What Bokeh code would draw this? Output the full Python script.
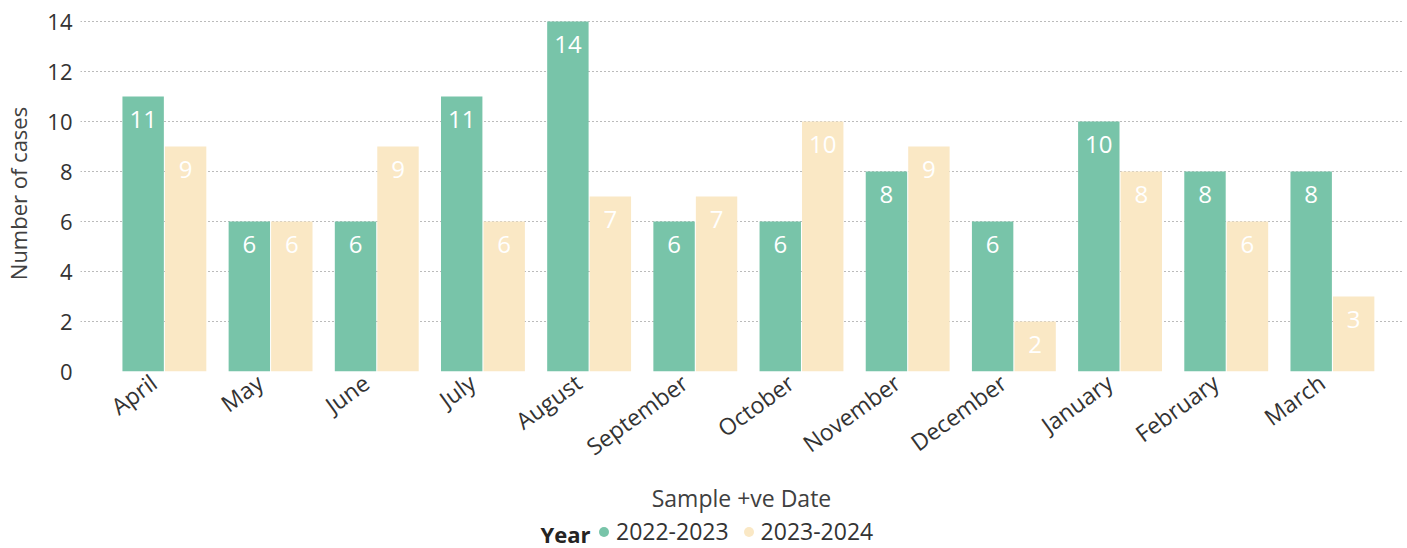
from bokeh.plotting import figure
from bokeh.layouts import column
from bokeh.models import (ColumnDataSource, Range1d, FixedTicker, Legend, LegendItem, Label)
from bokeh.core.properties import value
from bokeh.embed import file_html
from bokeh.resources import INLINE
import math

months = ["April", "May", "June", "July", "August", "September", "October",
          "November", "December", "January", "February", "March"]
series_names = ["2022-2023", "2023-2024"]
cases_2022_2023 = [11, 6, 6, 11, 14, 6, 6, 8, 6, 10, 8, 8]
cases_2023_2024 = [9, 6, 9, 6, 7, 7, 10, 9, 2, 8, 6, 3]
y_ticks = [0, 2, 4, 6, 8, 10, 12, 14]

GREEN = "#78C4A9"
CREAM = "#FAE8C5"
FONT = "Open Sans"

idx = list(range(len(months)))
src_a = ColumnDataSource(dict(x=[i - 0.2 for i in idx], y=cases_2022_2023,
                              t=[str(v) for v in cases_2022_2023]))
src_b = ColumnDataSource(dict(x=[i + 0.2 for i in idx], y=cases_2023_2024,
                              t=[str(v) for v in cases_2023_2024]))

p = figure(width=1407, height=516, output_backend="svg", toolbar_location=None,
           x_range=Range1d(-0.79, 11.66), y_range=Range1d(0, 14.24),
           min_border_left=80, min_border_right=5, min_border_top=15, min_border_bottom=144)
p.outline_line_color = None
p.background_fill_color = "white"
p.border_fill_color = "white"

r_a = p.vbar(x="x", top="y", width=0.39, source=src_a, fill_color=GREEN, line_color=None)
r_b = p.vbar(x="x", top="y", width=0.39, source=src_b, fill_color=CREAM, line_color=None)

for src in (src_a, src_b):
    p.text(x="x", y="y", text="t", source=src, text_color="white",
           text_font=value(FONT), text_font_size="24px", text_align="center",
           text_baseline="middle", y_offset=23)

# axes
label_shift = -0.1
tick_pos = [i + label_shift for i in idx]
p.xaxis.ticker = FixedTicker(ticks=tick_pos)
p.xaxis.major_label_overrides = {t: m for t, m in zip(tick_pos, months)}
p.xaxis.major_label_orientation = math.radians(36)
p.xaxis.axis_line_color = None
p.xaxis.major_tick_line_color = None
p.xaxis.minor_tick_line_color = None
p.xaxis.major_tick_out = 0
p.xaxis.major_tick_in = 0
p.xaxis.minor_tick_out = 0
p.xaxis.major_label_text_font = FONT
p.xaxis.major_label_text_font_size = "23px"
p.xaxis.major_label_text_color = "#333333"
p.xaxis.major_label_standoff = 8
p.xaxis.axis_label = "Sample +ve Date"
p.xaxis.axis_label_text_font = FONT
p.xaxis.axis_label_text_font_size = "23px"
p.xaxis.axis_label_text_font_style = "normal"
p.xaxis.axis_label_text_color = "#404040"
p.xaxis.axis_label_standoff = 4

p.yaxis.ticker = FixedTicker(ticks=y_ticks)
p.yaxis.axis_line_color = None
p.yaxis.major_tick_line_color = None
p.yaxis.minor_tick_line_color = None
p.yaxis.major_tick_out = 0
p.yaxis.major_tick_in = 0
p.yaxis.minor_tick_out = 0
p.yaxis.major_label_text_font = FONT
p.yaxis.major_label_text_font_size = "22px"
p.yaxis.major_label_text_color = "#333333"
p.yaxis.major_label_standoff = 8
p.yaxis.axis_label = "Number of cases"
p.yaxis.axis_label_text_font = FONT
p.yaxis.axis_label_text_font_size = "22px"
p.yaxis.axis_label_text_font_style = "normal"
p.yaxis.axis_label_text_color = "#404040"
p.yaxis.axis_label_standoff = 11

p.xgrid.grid_line_color = None
p.ygrid.grid_line_color = "#777777"
p.ygrid.grid_line_dash = "1 3"
p.ygrid.grid_line_width = 1

# legend strip below the chart (its frame is aligned with the chart's frame)
lg = figure(width=1407, height=32, output_backend="svg", toolbar_location=None,
            x_range=Range1d(80, 1402), y_range=Range1d(0, 32),
            min_border_left=80, min_border_right=5, min_border_top=0, min_border_bottom=0,
            x_axis_location=None, y_axis_location=None)
lg.outline_line_color = None
lg.xgrid.visible = False
lg.ygrid.visible = False
nan = float("nan")
m_a = lg.scatter(x=[nan], y=[nan], marker="circle", size=10, fill_color=GREEN, line_color=None)
m_b = lg.scatter(x=[nan], y=[nan], marker="circle", size=10, fill_color=CREAM, line_color=None)
legend = Legend(items=[LegendItem(label=series_names[0], renderers=[m_a]),
                       LegendItem(label=series_names[1], renderers=[m_b])],
                orientation="horizontal", location=(511, 1),
                glyph_width=25, glyph_height=25, label_height=25, label_standoff=0,
                spacing=7, padding=0, margin=0, border_line_color=None,
                background_fill_alpha=0,
                label_text_font=FONT, label_text_font_size="23px",
                label_text_color="#333333")
lg.add_layout(legend, "center")
year = Label(x=540, y=14.5, text="Year",
             text_font=FONT, text_font_size="22px", text_font_style="bold",
             text_color="#252423", text_align="left", text_baseline="middle")
lg.add_layout(year)

layout = column(p, lg, spacing=0)
open("out.html", "w").write(file_html(layout, INLINE))
